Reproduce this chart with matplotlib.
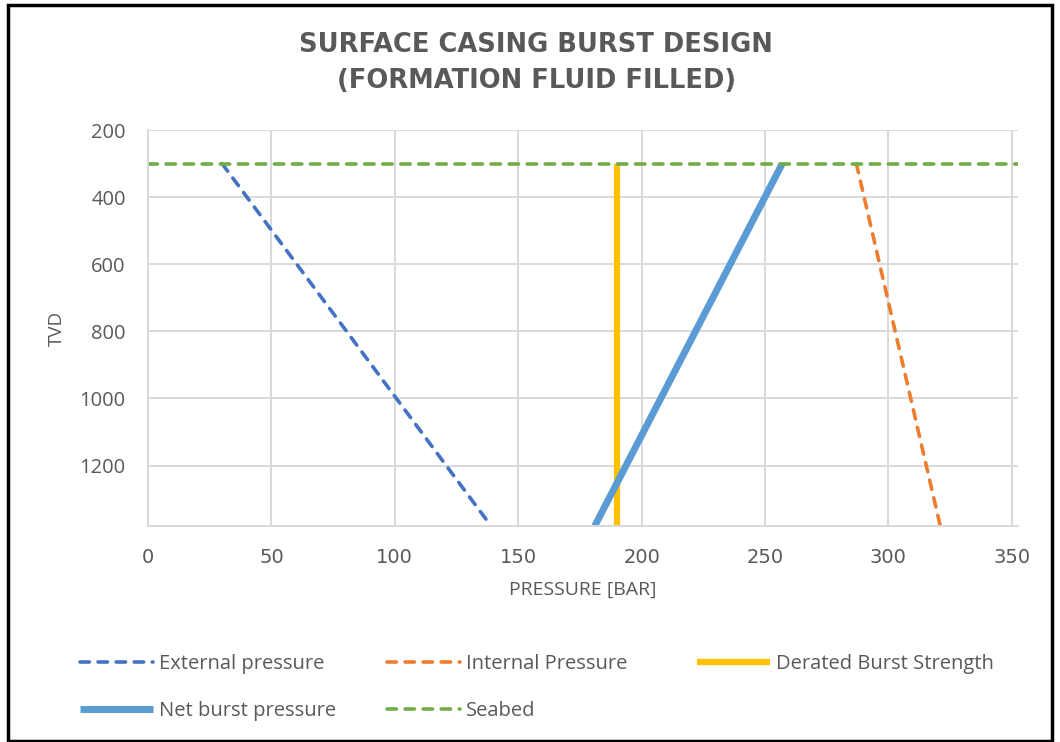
import matplotlib.pyplot as plt
from matplotlib.patches import Rectangle

# data (pressure in bar, TVD)
tvd = [300, 1380]
external_pressure = [30, 139]
internal_pressure = [287, 321]
derated_burst = [190, 190]
net_burst = [257, 181]
seabed_x = [0, 352.5]
seabed_y = [300, 300]

x_ticks = [0, 50, 100, 150, 200, 250, 300, 350]
y_ticks = [200, 400, 600, 800, 1000, 1200]

grey = '#595959'
grid_c = '#d9d9d9'
plt.rcParams['font.family'] = ['Open Sans', 'DejaVu Sans']

fig = plt.figure(figsize=(10.6, 7.42), dpi=100)
ax = fig.add_axes([148 / 1060, 1 - 526 / 742, 870 / 1060, 396 / 742])

dash = dict(linestyle=(0, (2.6, 2.4)), dash_capstyle='round', linewidth=2.6)
l_ext, = ax.plot(external_pressure, tvd, color='#4472c4', label='External pressure', **dash)
l_int, = ax.plot(internal_pressure, tvd, color='#ed7d31', label='Internal Pressure', **dash)
l_der, = ax.plot(derated_burst, tvd, color='#ffc000', linewidth=4.5,
                 solid_capstyle='butt', label='Derated Burst Strength')
l_net, = ax.plot(net_burst, tvd, color='#5b9bd5', linewidth=5,
                 solid_capstyle='butt', label='Net burst pressure')
l_sea, = ax.plot(seabed_x, seabed_y, color='#70ad47', label='Seabed', **dash)

ax.set_xlim(0, 352.5)
ax.set_ylim(1380, 200)
ax.set_xticks(x_ticks)
ax.set_yticks(y_ticks)
ax.grid(True, color=grid_c, linewidth=1.4)
ax.set_axisbelow(True)
ax.tick_params(length=0, labelcolor=grey)
ax.tick_params(axis='y', labelsize=14.5, pad=16)
ax.tick_params(axis='x', labelsize=14, pad=16)
for lab in ax.get_xticklabels():
    lab.set_family('DejaVu Sans')
for side in ['top', 'right']:
    ax.spines[side].set_visible(False)
for side in ['left', 'bottom']:
    ax.spines[side].set_color(grid_c)
    ax.spines[side].set_linewidth(1.4)

ax.set_xlabel('PRESSURE [BAR]', fontsize=14, color=grey, labelpad=10)
ax.set_ylabel('TVD', fontsize=13.5, color=grey, labelpad=10)

title_font = dict(ha='center', va='center', fontsize=18.5, fontweight='bold',
                  color=grey, family='DejaVu Sans')
fig.text(0.506, 1 - 45 / 742, 'SURFACE CASING BURST DESIGN', **title_font)
fig.text(0.506, 1 - 81 / 742, '(FORMATION FLUID FILLED)', **title_font)

# Excel-style legend: three equal-width columns, filled row by row
columns = [([l_ext, l_net], 80), ([l_int, l_sea], 387), ([l_der], 697)]
for handles, x0 in columns:
    fig.legend(handles, [h.get_label() for h in handles], loc='upper left',
               bbox_to_anchor=(x0 / 1060, 1 - 654 / 742), frameon=False,
               fontsize=14.5, labelcolor=grey, handlelength=3.6,
               handletextpad=0.3, labelspacing=1.35, borderpad=0,
               borderaxespad=0)

fig.add_artist(Rectangle((8 / 1060, 1 / 742), 1044 / 1060, 736 / 742,
                         transform=fig.transFigure, fill=False,
                         edgecolor='black', linewidth=2.5))

fig.savefig('out.png', dpi=100)
